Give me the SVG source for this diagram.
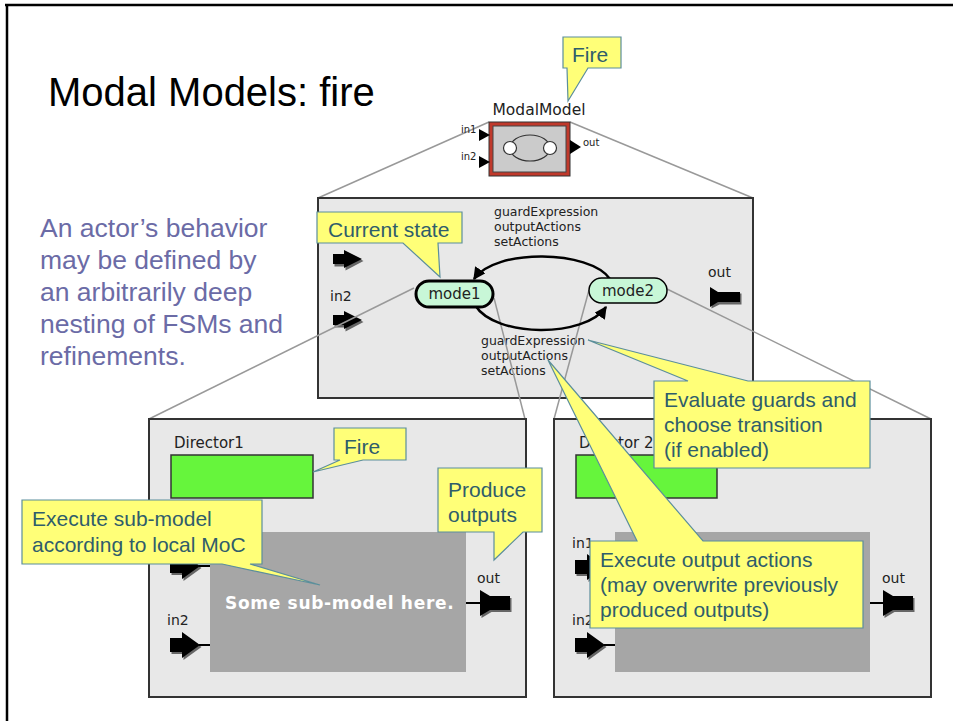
<svg xmlns="http://www.w3.org/2000/svg" width="953" height="721" viewBox="0 0 953 721">
  <style>
    .title { font-family: "Liberation Sans", Arial, sans-serif; font-size: 40px; fill: #000; }
    .note { font-family: "Liberation Sans", Arial, sans-serif; font-size: 26.5px; fill: #6b6ba6; }
    .call { fill: #ffff78; stroke: #5b8e9c; stroke-width: 1.2; stroke-linejoin: miter; }
    .calltext { font-family: "Liberation Sans", Arial, sans-serif; font-size: 21px; fill: #2f5d6b; }
    .lbl { font-family: "DejaVu Sans", Verdana, sans-serif; fill: #222; }
    .box { fill: #e8e8e8; stroke: #333; stroke-width: 2; }
    .zoomline { stroke: #999; stroke-width: 1.5; fill: none; }
    .port { fill: #000; }
    .portshadow { fill: #666; }
    .wire { stroke: #000; stroke-width: 2; }
    .arc { stroke: #000; stroke-width: 2.5; fill: none; marker-end: url(#head); }
    .director { fill: #66f53c; stroke: #333; stroke-width: 1.5; }
    .submodel { fill: #a6a6a6; }
    .mode { fill: #c8f7d7; stroke: #000; }
  </style>
  <defs>
    <marker id="head" viewBox="0 0 10 10" refX="9" refY="5" markerWidth="5" markerHeight="5" orient="auto" markerUnits="strokeWidth">
      <path d="M0,0 L10,5 L0,10 Z" fill="#000"/>
    </marker>
    <!-- input port of a refinement: block arrow, origin at the left end, centred vertically -->
    <g id="inPort">
      <polygon class="portshadow" points="1.5,-5 13.5,-5 13.5,-11 31.5,2 13.5,15 13.5,9 1.5,9"/>
      <polygon class="port" points="0,-7 12,-7 12,-13 30,0 12,13 12,7 0,7"/>
    </g>
    <!-- output port of a refinement: flared head with a block tail -->
    <g id="outPort">
      <polygon class="portshadow" points="1.5,-11 11.5,-5 31.5,-5 31.5,9 11.5,9 1.5,15"/>
      <polygon class="port" points="0,-13 10,-7 30,-7 30,7 10,7 0,13"/>
    </g>
    <!-- smaller ports used inside the state machine view -->
    <g id="inPortSmall">
      <polygon class="portshadow" points="1.5,-3.5 12.5,-3.5 12.5,-7.5 30.5,2 12.5,11.5 12.5,7.5 1.5,7.5"/>
      <polygon class="port" points="0,-5 11,-5 11,-9 29,0 11,9 11,5 0,5"/>
    </g>
    <g id="outPortSmall">
      <polygon class="portshadow" points="1.5,-8.5 9.5,-3.5 31.5,-3.5 31.5,7.5 9.5,7.5 1.5,11.5"/>
      <polygon class="port" points="0,-10 8,-5 30,-5 30,5 8,5 0,10"/>
    </g>
  </defs>

  <rect width="953" height="721" fill="#fff"/>
  <!-- slide frame -->
  <line x1="5" y1="5" x2="953" y2="5" stroke="#000" stroke-width="2.5"/>
  <line x1="7" y1="4" x2="7" y2="721" stroke="#000" stroke-width="2.5"/>

  <text class="title" x="48" y="106">Modal Models: fire</text>

  <g id="description">
    <text class="note" x="40" y="237">An actor’s behavior</text>
    <text class="note" x="40" y="269">may be defined by</text>
    <text class="note" x="40" y="301">an arbitrarily deep</text>
    <text class="note" x="40" y="333">nesting of FSMs and</text>
    <text class="note" x="40" y="365">refinements.</text>
  </g>

  <!-- zoom-out lines tying each level to its refinement -->
  <g id="connectors">
    <line class="zoomline" x1="489" y1="122" x2="318" y2="198"/>
    <line class="zoomline" x1="570" y1="122" x2="753" y2="198"/>
  </g>

  <!-- top-level ModalModel actor -->
  <g id="modalmodel">
    <text class="lbl" x="539" y="115" font-size="15.5" text-anchor="middle">ModalModel</text>
    <rect x="489" y="122" width="81" height="54" fill="#c0392b" stroke="#333" stroke-width="1"/>
    <rect x="493" y="126" width="73" height="46" fill="#cbcbcb" stroke="#444" stroke-width="1"/>
    <ellipse cx="530" cy="148" rx="20" ry="13" fill="none" stroke="#333" stroke-width="1.2"/>
    <circle cx="510" cy="148" r="6.5" fill="#fff" stroke="#333" stroke-width="1.2"/>
    <circle cx="550" cy="148" r="6.5" fill="#fff" stroke="#333" stroke-width="1.2"/>
    <polygon points="479,129 490,135 479,141" fill="#000"/>
    <polygon points="479,156 490,162 479,168" fill="#000"/>
    <polygon points="570,140 581,147 570,154" fill="#000"/>
    <text class="lbl" x="461" y="133" font-size="10">in1</text>
    <text class="lbl" x="461" y="160" font-size="10">in2</text>
    <text class="lbl" x="583" y="146" font-size="10">out</text>
  </g>

  <!-- FSM refinement of the modal model -->
  <g id="fsm">
    <rect class="box" x="318" y="198" width="435" height="200"/>
    <use href="#inPortSmall" x="333" y="259"/>
    <use href="#inPortSmall" x="333" y="320"/>
    <use href="#outPortSmall" x="710" y="297"/>
    <text class="lbl" x="330" y="301" font-size="14">in2</text>
    <text class="lbl" x="708" y="277" font-size="14">out</text>
    <text class="lbl" x="494" y="216" font-size="12.5" fill="#333">guardExpression</text>
    <text class="lbl" x="494" y="231" font-size="12.5" fill="#333">outputActions</text>
    <text class="lbl" x="494" y="246" font-size="12.5" fill="#333">setActions</text>
    <text class="lbl" x="481" y="345" font-size="12.5" fill="#333">guardExpression</text>
    <text class="lbl" x="481" y="360" font-size="12.5" fill="#333">outputActions</text>
    <text class="lbl" x="481" y="375" font-size="12.5" fill="#333">setActions</text>
  </g>

  <g id="connectors-refinement">
    <line class="zoomline" x1="414" y1="288" x2="149" y2="419"/>
    <line class="zoomline" x1="494" y1="298" x2="525" y2="419"/>
    <line class="zoomline" x1="589" y1="290" x2="554" y2="419"/>
    <line class="zoomline" x1="667" y1="289" x2="931" y2="419"/>
  </g>

  <g id="transitions">
    <path class="arc" d="M610,279 C590,250 495,248 474,279"/>
    <path class="arc" d="M475,305 C495,338 585,338 606,307"/>
  </g>

  <g id="mode1">
    <rect class="mode" x="416" y="281" width="77" height="26" rx="13" stroke-width="3"/>
    <text class="lbl" x="454.5" y="299" font-size="15" text-anchor="middle">mode1</text>
  </g>
  <g id="mode2">
    <rect class="mode" x="589" y="278" width="78" height="25" rx="12.5" stroke-width="1.5"/>
    <text class="lbl" x="628" y="296" font-size="15" text-anchor="middle">mode2</text>
  </g>

  <!-- refinement of mode1 -->
  <g id="refinement1">
    <rect class="box" x="149" y="419" width="377" height="278"/>
    <text class="lbl" x="174" y="448" font-size="15">Director1</text>
    <rect class="director" x="171" y="455" width="142" height="43"/>
    <rect class="submodel" x="210" y="532" width="256" height="140"/>
    <text x="225" y="609" font-family="'DejaVu Sans', Verdana, sans-serif" font-weight="bold" font-size="17" letter-spacing="0.7" fill="#fff">Some sub-model here.</text>
    <use href="#inPort" x="170" y="566"/>
    <line class="wire" x1="199" y1="566" x2="210" y2="566"/>
    <use href="#inPort" x="170" y="645"/>
    <line class="wire" x1="199" y1="645" x2="210" y2="645"/>
    <line class="wire" x1="466" y1="603" x2="481" y2="603"/>
    <use href="#outPort" x="480" y="603"/>
    <text class="lbl" x="167" y="625" font-size="14">in2</text>
    <text class="lbl" x="477" y="583" font-size="14">out</text>
  </g>

  <!-- refinement of mode2 -->
  <g id="refinement2">
    <rect class="box" x="554" y="419" width="377" height="278"/>
    <text class="lbl" x="579" y="448" font-size="15">Director 2</text>
    <rect class="director" x="576" y="455" width="141" height="43"/>
    <rect class="submodel" x="615" y="532" width="255" height="140"/>
    <use href="#inPort" x="575" y="567"/>
    <line class="wire" x1="604" y1="567" x2="615" y2="567"/>
    <use href="#inPort" x="575" y="645"/>
    <line class="wire" x1="604" y1="645" x2="615" y2="645"/>
    <line class="wire" x1="870" y1="603" x2="884" y2="603"/>
    <use href="#outPort" x="883" y="603"/>
    <text class="lbl" x="572" y="548" font-size="14">in1</text>
    <text class="lbl" x="572" y="625" font-size="14">in2</text>
    <text class="lbl" x="882" y="583" font-size="14">out</text>
  </g>

  <!-- annotation balloons -->
  <g id="callout-fire-top">
    <path class="call" d="M563,37 H621 V68 H588 L568,101 L567,68 H563 Z"/>
    <text class="calltext" x="572" y="62">Fire</text>
  </g>
  <g id="callout-current-state">
    <path class="call" d="M317,212 H462 V243 H438 L440,277 L403,243 H317 Z"/>
    <text class="calltext" x="328" y="237">Current state</text>
  </g>
  <g id="callout-fire-director">
    <path class="call" d="M334,428 H406 V460 H363 L313,472 L340,460 H334 Z"/>
    <text class="calltext" x="344" y="454">Fire</text>
  </g>
  <g id="callout-produce">
    <path class="call" d="M438,468 H542 V532 H523 L494,560 V532 H438 Z"/>
    <text class="calltext" x="448" y="497">Produce</text>
    <text class="calltext" x="448" y="522">outputs</text>
  </g>
  <g id="callout-execute-submodel">
    <path class="call" d="M22,500 H262 V564 H250 L320,585 L222,564 H22 Z"/>
    <text class="calltext" x="32" y="526">Execute sub-model</text>
    <text class="calltext" x="32" y="552">according to local MoC</text>
  </g>
  <g id="callout-evaluate">
    <path class="call" d="M654,381 H688 L588,340 L748,381 H870 V468 H654 Z"/>
    <text class="calltext" x="664" y="407">Evaluate guards and</text>
    <text class="calltext" x="664" y="432">choose transition</text>
    <text class="calltext" x="664" y="457">(if enabled)</text>
  </g>
  <g id="callout-output-actions">
    <path class="call" d="M590,541 H637 L548,360 L703,541 H863 V628 H590 Z"/>
    <text class="calltext" x="600" y="567">Execute output actions</text>
    <text class="calltext" x="600" y="592">(may overwrite previously</text>
    <text class="calltext" x="600" y="617">produced outputs)</text>
  </g>
</svg>
